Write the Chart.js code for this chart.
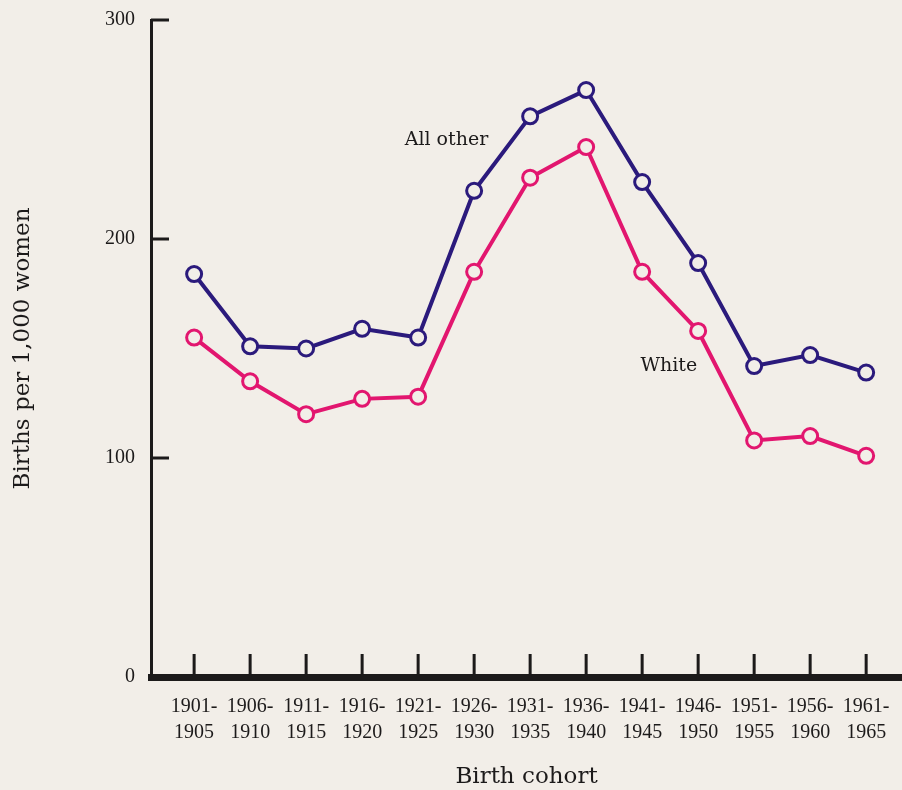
<!DOCTYPE html>
<html>
<head>
<meta charset="utf-8">
<title>Births per 1,000 women by birth cohort</title>
<script src="https://cdn.jsdelivr.net/npm/chart.js@4"></script>
<style>
  html, body { margin: 0; padding: 0; background: #f2eee8; }
  canvas { display: block; }
</style>
</head>
<body>
<canvas id="chart" width="902" height="790"></canvas>
<script>
// values
const cohorts = ['1901-1905', '1906-1910', '1911-1915', '1916-1920', '1921-1925', '1926-1930',
  '1931-1935', '1936-1940', '1941-1945', '1946-1950', '1951-1955', '1956-1960', '1961-1965'];
const allOther = [184, 151, 150, 159, 155, 222, 256, 268, 226, 189, 142, 147, 139];
const white = [155, 135, 120, 127, 128, 185, 228, 242, 185, 158, 108, 110, 101];
const yTicks = [0, 100, 200, 300];
// curve labels, placed in data units
const seriesLabels = [
  { text: 'All other', x: 3.76, y: 245 },
  { text: 'White', x: 7.97, y: 142 }
];

const navy = '#2b1a7c';
const pink = '#e2166f';
const paper = '#f2eee8';
const ink = '#1c1a1a';
const serif = '"Liberation Serif", serif';
const wideSerif = '"DejaVu Serif", serif';

const paperBg = {
  id: 'paperBg',
  beforeDraw(chart) {
    const ctx = chart.ctx;
    ctx.save();
    ctx.fillStyle = paper;
    ctx.fillRect(0, 0, chart.width, chart.height);
    ctx.restore();
  }
};

// short tick marks pointing into the plot
const innerTicks = {
  id: 'innerTicks',
  afterDraw(chart) {
    const { ctx, scales: { x, y } } = chart;
    ctx.save();
    ctx.strokeStyle = ink;
    ctx.lineWidth = 3;
    ctx.beginPath();
    cohorts.forEach((c, i) => {
      const px = x.getPixelForValue(i);
      ctx.moveTo(px, y.bottom);
      ctx.lineTo(px, y.bottom - 23);
    });
    yTicks.filter(v => v > 0).forEach(v => {
      const py = y.getPixelForValue(v);
      ctx.moveTo(x.left, py);
      ctx.lineTo(x.left + 18, py);
    });
    ctx.stroke();
    ctx.restore();
  }
};

const curveLabels = {
  id: 'curveLabels',
  afterDatasetsDraw(chart) {
    const { ctx, scales: { x, y } } = chart;
    ctx.save();
    ctx.fillStyle = ink;
    ctx.font = '19px ' + wideSerif;
    ctx.textAlign = 'left';
    ctx.textBaseline = 'middle';
    seriesLabels.forEach(l => {
      ctx.fillText(l.text, x.getPixelForValue(l.x), y.getPixelForValue(l.y));
    });
    ctx.restore();
  }
};

function series(values, color) {
  return {
    data: values.map((v, i) => ({ x: i, y: v })),
    borderColor: color,
    borderWidth: 4,
    pointRadius: 7.5,
    pointHoverRadius: 7.5,
    pointBorderWidth: 3,
    pointBorderColor: color,
    pointBackgroundColor: paper,
    tension: 0
  };
}

new Chart(document.getElementById('chart'), {
  type: 'line',
  data: {
    datasets: [series(white, pink), series(allOther, navy)]
  },
  options: {
    responsive: false,
    animation: false,
    events: [],
    layout: { autoPadding: false, padding: { top: 20, left: 0, right: 0, bottom: 0 } },
    plugins: {
      legend: { display: false },
      tooltip: { enabled: false }
    },
    scales: {
      x: {
        type: 'linear',
        min: -0.77,
        max: 12.64,
        afterBuildTicks: s => { s.ticks = cohorts.map((c, i) => ({ value: i })); },
        afterFit: s => { s.height = 113; s.paddingLeft = 0; s.paddingRight = 0; },
        grid: { display: false, drawTicks: false },
        border: { display: true, width: 7, color: ink },
        ticks: {
          padding: 17,
          maxRotation: 0,
          autoSkip: false,
          color: ink,
          font: { family: serif, size: 20, lineHeight: 1.3 },
          callback: v => {
            const parts = cohorts[v].split('-');
            return [parts[0] + '-', parts[1]];
          }
        },
        title: {
          display: true,
          text: 'Birth cohort',
          color: ink,
          font: { family: wideSerif, size: 23, lineHeight: 1 },
          padding: { top: 0, bottom: 1 }
        }
      },
      y: {
        min: 0,
        max: 300,
        afterBuildTicks: s => { s.ticks = yTicks.map(v => ({ value: v })); },
        afterFit: s => { s.width = 151; s.paddingTop = 0; s.paddingBottom = 0; },
        grid: { display: false, drawTicks: false },
        border: { display: true, width: 3, color: ink },
        ticks: {
          padding: 16,
          color: ink,
          font: { family: serif, size: 20 }
        },
        title: {
          display: true,
          text: 'Births per 1,000 women',
          color: ink,
          font: { family: wideSerif, size: 23, lineHeight: 1.2 },
          padding: { top: 9, bottom: 0 }
        }
      }
    }
  },
  plugins: [paperBg, innerTicks, curveLabels]
});
</script>
</body>
</html>
